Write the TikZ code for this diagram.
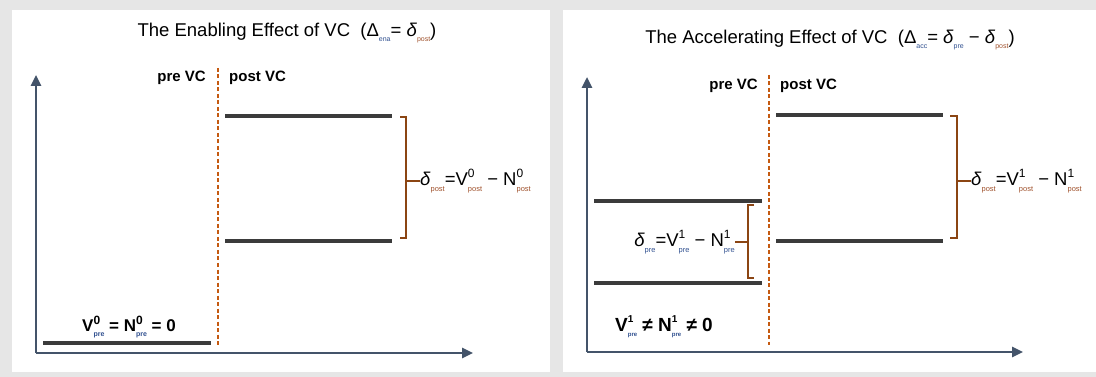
\documentclass[tikz,border=0pt]{standalone}
\usepackage{fontspec}
\setmainfont{Liberation Sans}
\usetikzlibrary{arrows.meta,positioning}
\definecolor{slate}{HTML}{44546A}
\definecolor{bar}{HTML}{3B3B3B}
\definecolor{vcline}{HTML}{C55A11}
\definecolor{brace}{HTML}{8B4513}
\definecolor{prec}{HTML}{2F4F8F}
\definecolor{postc}{HTML}{A0522D}
\definecolor{frame}{HTML}{E6E6E6}

% symbol with stacked index: \lv{V}{0}{pre}
\newcommand{\supsz}{10}
\newcommand{\subsz}{6}
\newcommand{\lv}[3]{#1\makebox[0pt][l]{\raisebox{0.45em}{\fontsize{\supsz}{\supsz}\selectfont #2}}\raisebox{-0.3em}{\fontsize{\subsz}{\subsz}\selectfont #3}}
\newcommand{\spre}{\textcolor{prec}{pre}}
\newcommand{\spost}{\textcolor{postc}{post}}
\newcommand{\dlt}{\textit{δ}}

\begin{document}
\begin{tikzpicture}[
  x=1pt, y=-1pt,
  >=Latex,
  % Styles
  panel/.style={fill=white, draw=none},
  axis/.style={-{Triangle[width=10pt,length=11pt]}, line width=2.6pt, draw=slate},
  level/.style={line width=3.2pt, draw=bar},
  vcsep/.style={dashed, dash pattern=on 4pt off 2.5pt, line width=1.4pt, draw=vcline},
  bracket/.style={line width=1.4pt, draw=brace},
  title/.style={font=\fontsize{18.5}{20}\selectfont\renewcommand{\subsz}{7}, inner sep=0pt},
  phase/.style={font=\fontsize{15}{17}\selectfont\bfseries, inner sep=0pt},
  gap/.style={font=\fontsize{18.5}{20}\selectfont\renewcommand{\supsz}{12}\renewcommand{\subsz}{7.5}, inner sep=0pt},
  base/.style={font=\fontsize{17}{19}\selectfont\bfseries\renewcommand{\supsz}{12}\renewcommand{\subsz}{7}, inner sep=0pt},
]

% === Frame ===
\fill[frame] (0,0) rectangle (1096,377);
\useasboundingbox (0,0) rectangle (1096,377);
\fill[panel] (12,10) rectangle (550,372);
\fill[panel] (563,10) rectangle (1096,372);

% === LEFT: enabling effect ===
\node[title] (titleA) at (287,33)
  {The Enabling Effect of VC\ \ (Δ\raisebox{-0.3em}{\fontsize{7}{7}\selectfont\textcolor{prec}{ena}}= \lv{\dlt}{}{\spost})};

\coordinate (oA) at (36,353);
\coordinate (yA) at (36,75);
\coordinate (xA) at (473,353);
\draw[axis] (oA) -- (yA);
\draw[axis] (oA) -- (xA);

\coordinate (vcA1) at (218,68);
\coordinate (vcA2) at (218,345);
\draw[vcsep] (vcA1) -- (vcA2);
\node[phase, anchor=east] (preA) at (206,78) {pre VC};
\node[phase, anchor=west] (postA) at (229,78) {post VC};

% levels
\coordinate (zA1) at (43,343);
\coordinate (zA2) at (211,343);
\draw[level] (zA1) -- (zA2);
\coordinate (hiA1) at (225,116);
\coordinate (hiA2) at (392,116);
\draw[level] (hiA1) -- (hiA2);
\coordinate (loA1) at (225,241);
\coordinate (loA2) at (392,241);
\draw[level] (loA1) -- (loA2);

\node[base] (zeroA) at (129,327) {\lv{V}{0}{\spre} = \lv{N}{0}{\spre} = 0};

% brace
\draw[bracket] (400,117) -- (406,117) -- (406,238) -- (400,238);
\coordinate (tipA) at (406,181);
\node[gap, anchor=west] (gapA) at (420,181)
  {\lv{\dlt}{}{\spost}=\lv{V}{0}{\spost} − \lv{N}{0}{\spost}};
\draw[bracket] (tipA) -- (gapA.west);

% === RIGHT: accelerating effect ===
\node[title] (titleB) at (830,40)
  {The Accelerating Effect of VC\ \ (Δ\raisebox{-0.3em}{\fontsize{7}{7}\selectfont\textcolor{prec}{acc}}= \lv{\dlt}{}{\spre} − \lv{\dlt}{}{\spost})};

\coordinate (oB) at (587,352);
\coordinate (yB) at (587,77);
\coordinate (xB) at (1023,352);
\draw[axis] (oB) -- (yB);
\draw[axis] (oB) -- (xB);

\coordinate (vcB1) at (769,75);
\coordinate (vcB2) at (769,345);
\draw[vcsep] (vcB1) -- (vcB2);
\node[phase, anchor=east] (preB) at (758,86) {pre VC};
\node[phase, anchor=west] (postB) at (780,86) {post VC};

% levels
\coordinate (hiB1) at (594,201);
\coordinate (hiB2) at (762,201);
\draw[level] (hiB1) -- (hiB2);
\coordinate (loB1) at (594,283);
\coordinate (loB2) at (762,283);
\draw[level] (loB1) -- (loB2);
\coordinate (hiC1) at (776,115);
\coordinate (hiC2) at (943,115);
\draw[level] (hiC1) -- (hiC2);
\coordinate (loC1) at (776,241);
\coordinate (loC2) at (943,241);
\draw[level] (loC1) -- (loC2);

\node[base, font=\fontsize{19}{21}\selectfont\bfseries] (zeroB) at (664,327)
  {\lv{V}{1}{\spre}\ ≠ \lv{N}{1}{\spre}\ ≠ 0};

% pre brace
\draw[bracket] (754,205) -- (748,205) -- (748,278) -- (754,278);
\coordinate (tipB) at (748,242);
\node[gap, anchor=east] (gapB) at (735,242)
  {\lv{\dlt}{}{\spre}=\lv{V}{1}{\spre} − \lv{N}{1}{\spre}};
\draw[bracket] (tipB) -- (gapB.east);

% post brace
\draw[bracket] (950,116) -- (957,116) -- (957,238) -- (950,238);
\coordinate (tipC) at (957,181);
\node[gap, anchor=west] (gapC) at (971,181)
  {\lv{\dlt}{}{\spost}=\lv{V}{1}{\spost} − \lv{N}{1}{\spost}};
\draw[bracket] (tipC) -- (gapC.west);

\end{tikzpicture}
\end{document}
